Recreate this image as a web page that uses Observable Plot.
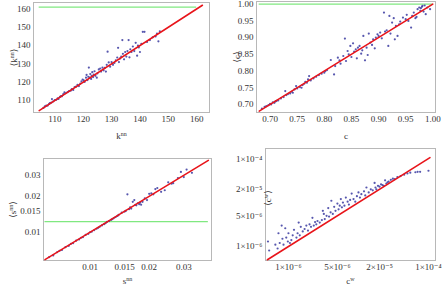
<!DOCTYPE html>
<html><head><meta charset="utf-8">
<script src="https://cdn.jsdelivr.net/npm/d3@7"></script>
<script src="https://cdn.jsdelivr.net/npm/@observablehq/plot@0.6"></script>
<style>
body{margin:0;background:#fff;}
#wrap{position:relative;width:446px;height:288px;}
.p{position:absolute;}
svg, svg text{font-family:"Liberation Serif","DejaVu Serif",serif !important;}
</style></head><body><div id="wrap"></div>
<script>
// ---- Panel 1: k^nn ----
const knnX = [106,106.5,107,107.5,108,108.3,108.8,109,109.5,110,110.5,111,111.3,111.8,112.2,112.5,113,113.4,113.8,114.5,115,115.6,116,116.5,117,117.5,118,118.5,119,119.4,119.8,120.2,120.5,121,121.2,121.5,121.8,122,122.3,122.5,122.8,123,123.2,123.5,123.7,124,124.3,124.8,125,125.5,126,126.3,126.8,127.2,127.6,128,128.3,128.6,129,129.5,130,130.5,131,131.5,132,132.3,132.6,133,133.4,133.8,134,134.4,134.8,135.2,135.6,136,136.3,136.6,137,137.5,138,138.5,139,139.3,139.6,140,140.5,141,141.6,142.5,143.5,144.5,145.5,146,146.5,147];
const knnY = [106,106.8,107.2,107.3,108.2,108.6,108.9,110.8,109.6,110.3,110.4,111.2,110.9,112,112.5,112.3,113.5,114.5,114,114.6,115.2,115.4,116.3,115.8,117.4,117.6,118.6,117.9,119.3,120.5,121.5,121,120.2,122.5,124,121.2,123,128,122.5,124.5,121.8,123.5,125.5,122.8,124.2,126,123.5,122.5,124.8,127,127.5,125.8,128,126.5,127.8,125.8,129.5,136.7,130.8,128.5,131,129.5,130.5,132,133.5,138.8,131,133,134,143,135.5,132.5,136.5,134,137,143,133.6,138,136.5,139.5,137,141.5,134.5,140,139,136.5,141,147.5,147.5,142,143,144.5,145,146.5,142.3,147.8];
const knnDiag = [104.5, 162];
const knnGreen = {y: 161, x: [104.5, 160]};
const knnTicks = [110,120,130,140,150,160];

// ---- Panel 2: c ----
const cX = [0.685,0.69,0.693,0.697,0.70,0.702,0.705,0.708,0.71,0.712,0.715,0.72,0.725,0.728,0.73,0.733,0.737,0.74,0.742,0.745,0.748,0.75,0.755,0.758,0.76,0.763,0.765,0.768,0.77,0.772,0.775,0.78,0.785,0.79,0.795,0.80,0.802,0.805,0.812,0.818,0.82,0.825,0.828,0.83,0.835,0.838,0.84,0.843,0.845,0.848,0.85,0.853,0.855,0.858,0.86,0.862,0.865,0.868,0.87,0.872,0.875,0.878,0.88,0.882,0.885,0.888,0.89,0.893,0.895,0.898,0.90,0.903,0.906,0.91,0.912,0.915,0.918,0.92,0.922,0.925,0.928,0.93,0.932,0.935,0.938,0.94,0.945,0.95,0.952,0.955,0.96,0.962,0.965,0.968,0.97,0.972,0.975,0.977,0.978,0.98,0.981,0.983,0.985,0.987,0.99,0.995];
const cY = [0.688,0.693,0.695,0.698,0.702,0.700,0.706,0.705,0.709,0.711,0.712,0.718,0.722,0.740,0.728,0.731,0.733,0.738,0.735,0.745,0.755,0.748,0.752,0.750,0.758,0.762,0.768,0.765,0.775,0.785,0.772,0.778,0.783,0.788,0.792,0.795,0.800,0.803,0.833,0.790,0.815,0.840,0.832,0.822,0.845,0.897,0.830,0.860,0.850,0.875,0.842,0.883,0.858,0.865,0.838,0.870,0.875,0.852,0.862,0.905,0.832,0.870,0.848,0.912,0.885,0.878,0.895,0.868,0.900,0.910,0.905,0.915,0.898,0.975,0.918,0.922,0.875,0.965,0.912,0.945,0.958,0.895,0.935,0.905,0.940,0.948,0.960,0.955,0.968,0.950,0.930,0.965,0.975,0.958,0.962,0.985,0.990,0.980,0.988,0.992,0.995,0.978,0.996,0.970,0.990,0.985];
const cDiag = [0.68, 1.0];
const cGreen = {y: 1.0, x: [0.68, 1.0]};
const cTicks = [0.70,0.75,0.80,0.85,0.90,0.95,1.00];

// ---- Panel 3: s^nn (log-log) ----
const snnX = [0.0062,0.0065,0.0068,0.0070,0.0072,0.0075,0.0078,0.0080,0.0082,0.0085,0.0088,0.0090,0.0092,0.0095,0.0098,0.0100,0.0102,0.0105,0.0108,0.0110,0.0112,0.0115,0.0118,0.0120,0.0122,0.0125,0.0128,0.0130,0.0132,0.0135,0.0138,0.0140,0.0145,0.0150,0.0152,0.0155,0.0158,0.0160,0.0162,0.0165,0.0168,0.0170,0.0172,0.0175,0.0178,0.0180,0.0182,0.0185,0.0190,0.0195,0.0200,0.0205,0.0210,0.0215,0.0220,0.0230,0.0240,0.0250,0.0260,0.0265,0.0280,0.0290,0.0300,0.0310,0.0330];
const snnY = [0.0062,0.0064,0.0068,0.0070,0.0071,0.0075,0.0077,0.0080,0.0081,0.0085,0.0087,0.0090,0.0091,0.0095,0.0097,0.0100,0.0101,0.0104,0.0107,0.0109,0.0111,0.0114,0.0117,0.0119,0.0122,0.0124,0.0127,0.0129,0.0131,0.0134,0.0137,0.0140,0.0146,0.0149,0.0151,0.0208,0.0156,0.0162,0.0158,0.0180,0.0186,0.0170,0.0168,0.0175,0.0172,0.0177,0.0170,0.0180,0.0192,0.0186,0.0210,0.0212,0.0208,0.0230,0.0235,0.0218,0.0225,0.0262,0.0255,0.0258,0.0285,0.0320,0.0290,0.0335,0.0315];
const snnDiag = [0.0059, 0.040];
const snnGreen = {y: 0.0123, x: [0.0059, 0.040]};
const snnTicks = [0.01,0.015,0.02,0.03];
const snnTickLabels = ["0.01","0.015","0.02","0.03"];

// ---- Panel 4: c^w (log-log) ----
const cwX = [5.1e-7,5.3e-7,6.5e-7,7.0e-7,7.2e-7,7.5e-7,8.0e-7,8.2e-7,8.5e-7,9.0e-7,9.3e-7,9.8e-7,1.0e-6,1.05e-6,1.1e-6,1.15e-6,1.2e-6,1.3e-6,1.35e-6,1.4e-6,1.45e-6,1.5e-6,1.6e-6,1.7e-6,1.8e-6,1.9e-6,2.0e-6,2.1e-6,2.2e-6,2.3e-6,2.4e-6,2.5e-6,2.6e-6,2.8e-6,3.0e-6,3.1e-6,3.2e-6,3.3e-6,3.5e-6,3.7e-6,3.8e-6,4.0e-6,4.1e-6,4.3e-6,4.5e-6,4.7e-6,5.0e-6,5.2e-6,5.4e-6,5.6e-6,5.8e-6,6.0e-6,6.3e-6,6.6e-6,7.0e-6,7.3e-6,7.6e-6,8.0e-6,8.5e-6,9.0e-6,9.5e-6,1.0e-5,1.05e-5,1.1e-5,1.2e-5,1.25e-5,1.3e-5,1.4e-5,1.5e-5,1.6e-5,1.7e-5,1.75e-5,1.8e-5,1.9e-5,2.0e-5,2.1e-5,2.2e-5,2.3e-5,2.4e-5,2.5e-5,2.6e-5,2.7e-5,2.9e-5,3.1e-5,3.3e-5,3.6e-5,4.0e-5,4.5e-5,5.0e-5,5.5e-5,6.5e-5,7.0e-5,7.6e-5,1.0e-4];
const cwY = [1.3e-6,8.1e-7,1.1e-6,9.0e-7,2.0e-6,1.2e-6,3.0e-6,1.5e-6,1.1e-6,2.6e-6,1.6e-6,1.3e-6,2.0e-6,1.2e-6,1.4e-6,1.8e-6,2.4e-6,1.6e-6,2.0e-6,3.5e-6,1.8e-6,2.8e-6,2.2e-6,2.5e-6,3.0e-6,2.3e-6,3.2e-6,2.8e-6,4.5e-6,3.0e-6,3.6e-6,3.2e-6,3.8e-6,3.5e-6,4.0e-6,6.5e-6,5.5e-6,4.2e-6,5.0e-6,7.5e-6,4.8e-6,6.0e-6,1.1e-5,5.5e-6,8.0e-6,6.5e-6,9.5e-6,7.0e-6,8.5e-6,1.2e-5,7.8e-6,1.0e-5,8.5e-6,1.3e-5,1.05e-5,9.0e-6,1.15e-5,1.6e-5,1.2e-5,1.05e-5,1.4e-5,1.7e-5,1.3e-5,1.55e-5,1.8e-5,1.45e-5,2.2e-5,1.7e-5,2.0e-5,1.9e-5,2.8e-5,2.2e-5,2.0e-5,2.4e-5,2.3e-5,2.6e-5,2.5e-5,2.4e-5,3.2e-5,2.7e-5,2.9e-5,3.0e-5,3.3e-5,3.5e-5,3.4e-5,3.8e-5,4.0e-5,4.3e-5,4.6e-5,4.8e-5,4.9e-5,5.0e-5,5.0e-5,5.3e-5];
const cwDiag = [5.0e-7, 1.05e-4];
const cwTicks = [1e-6,5e-6,2e-5,1e-4];
const cwTickLabels = ["1×10⁻⁶","5×10⁻⁶","2×10⁻⁵","1×10⁻⁴"];

const panels = [
  {left:0, top:0, x:knnX, y:knnY, diag:knnDiag, green:knnGreen, type:"linear",
   xd:[102.5,164.5], yd:[103.5,163.5], m:[2,14,32,33], xt:knnTicks, lab:knnTicks.map(String),
   base:"k", sup:"nn", xlo:26, ylo:23, ysh:0},
  {left:223, top:0, x:cX, y:cY, diag:cDiag, green:cGreen, type:"linear",
   xd:[0.675,1.005], yd:[0.676,1.008], m:[1,11,32,33], xt:cTicks, lab:cTicks.map(d=>d.toFixed(2)),
   base:"c", sup:"", xlo:26, ylo:23, ysh:0},
  {left:0, top:144, x:snnX, y:snnY, diag:snnDiag, green:snnGreen, type:"log",
   xd:[0.0058,0.0415], yd:[0.0058,0.0415], m:[14,12,28,43], xt:snnTicks, lab:snnTickLabels,
   base:"s", sup:"nn", xlo:23, ylo:34, ysh:0},
  {left:223, top:144, x:cwX, y:cwY, diag:cwDiag, green:null, type:"log",
   xd:[4.7e-7,1.26e-4], yd:[4.8e-7,1.7e-4], m:[4,11,28,42], xt:cwTicks, lab:cwTickLabels,
   base:"c", sup:"w", xlo:23, ylo:31, ysh:-6}
];

const wrap = document.getElementById("wrap");
for (const p of panels) {
  const pts = p.x.map((v,i)=>({x:v, y:p.y[i]}));
  const diag = p.diag.map(v=>({x:v, y:v}));
  const ticks = p.xt.map((v,i)=>({v, t:p.lab[i]}));
  const xlab = p.base + (p.sup ? " " + p.sup : "");
  const m2 = [
    Plot.frame({stroke:"#b8b8b8"}),
    Plot.axisX({ticks:[], tickSize:0, label:xlab, labelAnchor:"center", labelArrow:"none", labelOffset:p.xlo, fontSize:9, color:"#333"}),
    Plot.axisY({ticks:[], tickSize:0, label:"⟨" + xlab + "⟩", labelAnchor:"center", labelArrow:"none", labelOffset:p.ylo, fontSize:9, color:"#333"}),
    Plot.text(ticks, {x:"v", text:"t", frameAnchor:"bottom", dy:9, fontSize:9, fill:"#333"}),
    Plot.text(ticks, {y:"v", text:"t", frameAnchor:"left", dx:-3, textAnchor:"end", fontSize:9, fill:"#333"}),
  ];
  if (p.green) m2.push(Plot.ruleY([p.green.y], {x1:p.green.x[0], x2:p.green.x[1], stroke:"#80e880", strokeWidth:1.2}));
  m2.push(Plot.dot(pts, {x:"x", y:"y", r:1.1, fill:"#3a3aa0", stroke:"none", fillOpacity:0.85}));
  m2.push(Plot.line(diag, {x:"x", y:"y", stroke:"#e8141a", strokeWidth:1.6}));
  const svg = Plot.plot({
    width:223, height:144,
    marginTop:p.m[0], marginRight:p.m[1], marginBottom:p.m[2], marginLeft:p.m[3],
    x:{type:p.type, domain:p.xd}, y:{type:p.type, domain:p.yd},
    style:{fontFamily:"'Liberation Serif', serif", fontSize:"9px", color:"#333", background:"transparent"},
    marks:m2
  });
  svg.classList.add("p");
  svg.style.left = p.left+"px"; svg.style.top = p.top+"px";
  const ylg = svg.querySelector('[aria-label="y-axis label"]');
  if (ylg && p.ysh) ylg.setAttribute("transform", `translate(0,${p.ysh})`);
  // typeset superscripts in the axis labels
  if (p.sup) {
    svg.querySelectorAll('[aria-label="x-axis label"] text, [aria-label="y-axis label"] text').forEach(t => {
      const isY = t.textContent.startsWith("⟨");
      t.textContent = "";
      const ns = "http://www.w3.org/2000/svg";
      const parts = isY ? [["⟨"+p.base,0,null],[p.sup,-3,"6px"],["⟩",3,null]] : [[p.base,0,null],[p.sup,-3,"6px"]];
      for (const [s,dy,fs] of parts) {
        const ts = document.createElementNS(ns, "tspan");
        ts.textContent = s;
        if (dy) ts.setAttribute("dy", dy);
        if (fs) ts.setAttribute("font-size", fs);
        t.appendChild(ts);
      }
    });
  }
  wrap.appendChild(svg);
}
</script></body></html>
